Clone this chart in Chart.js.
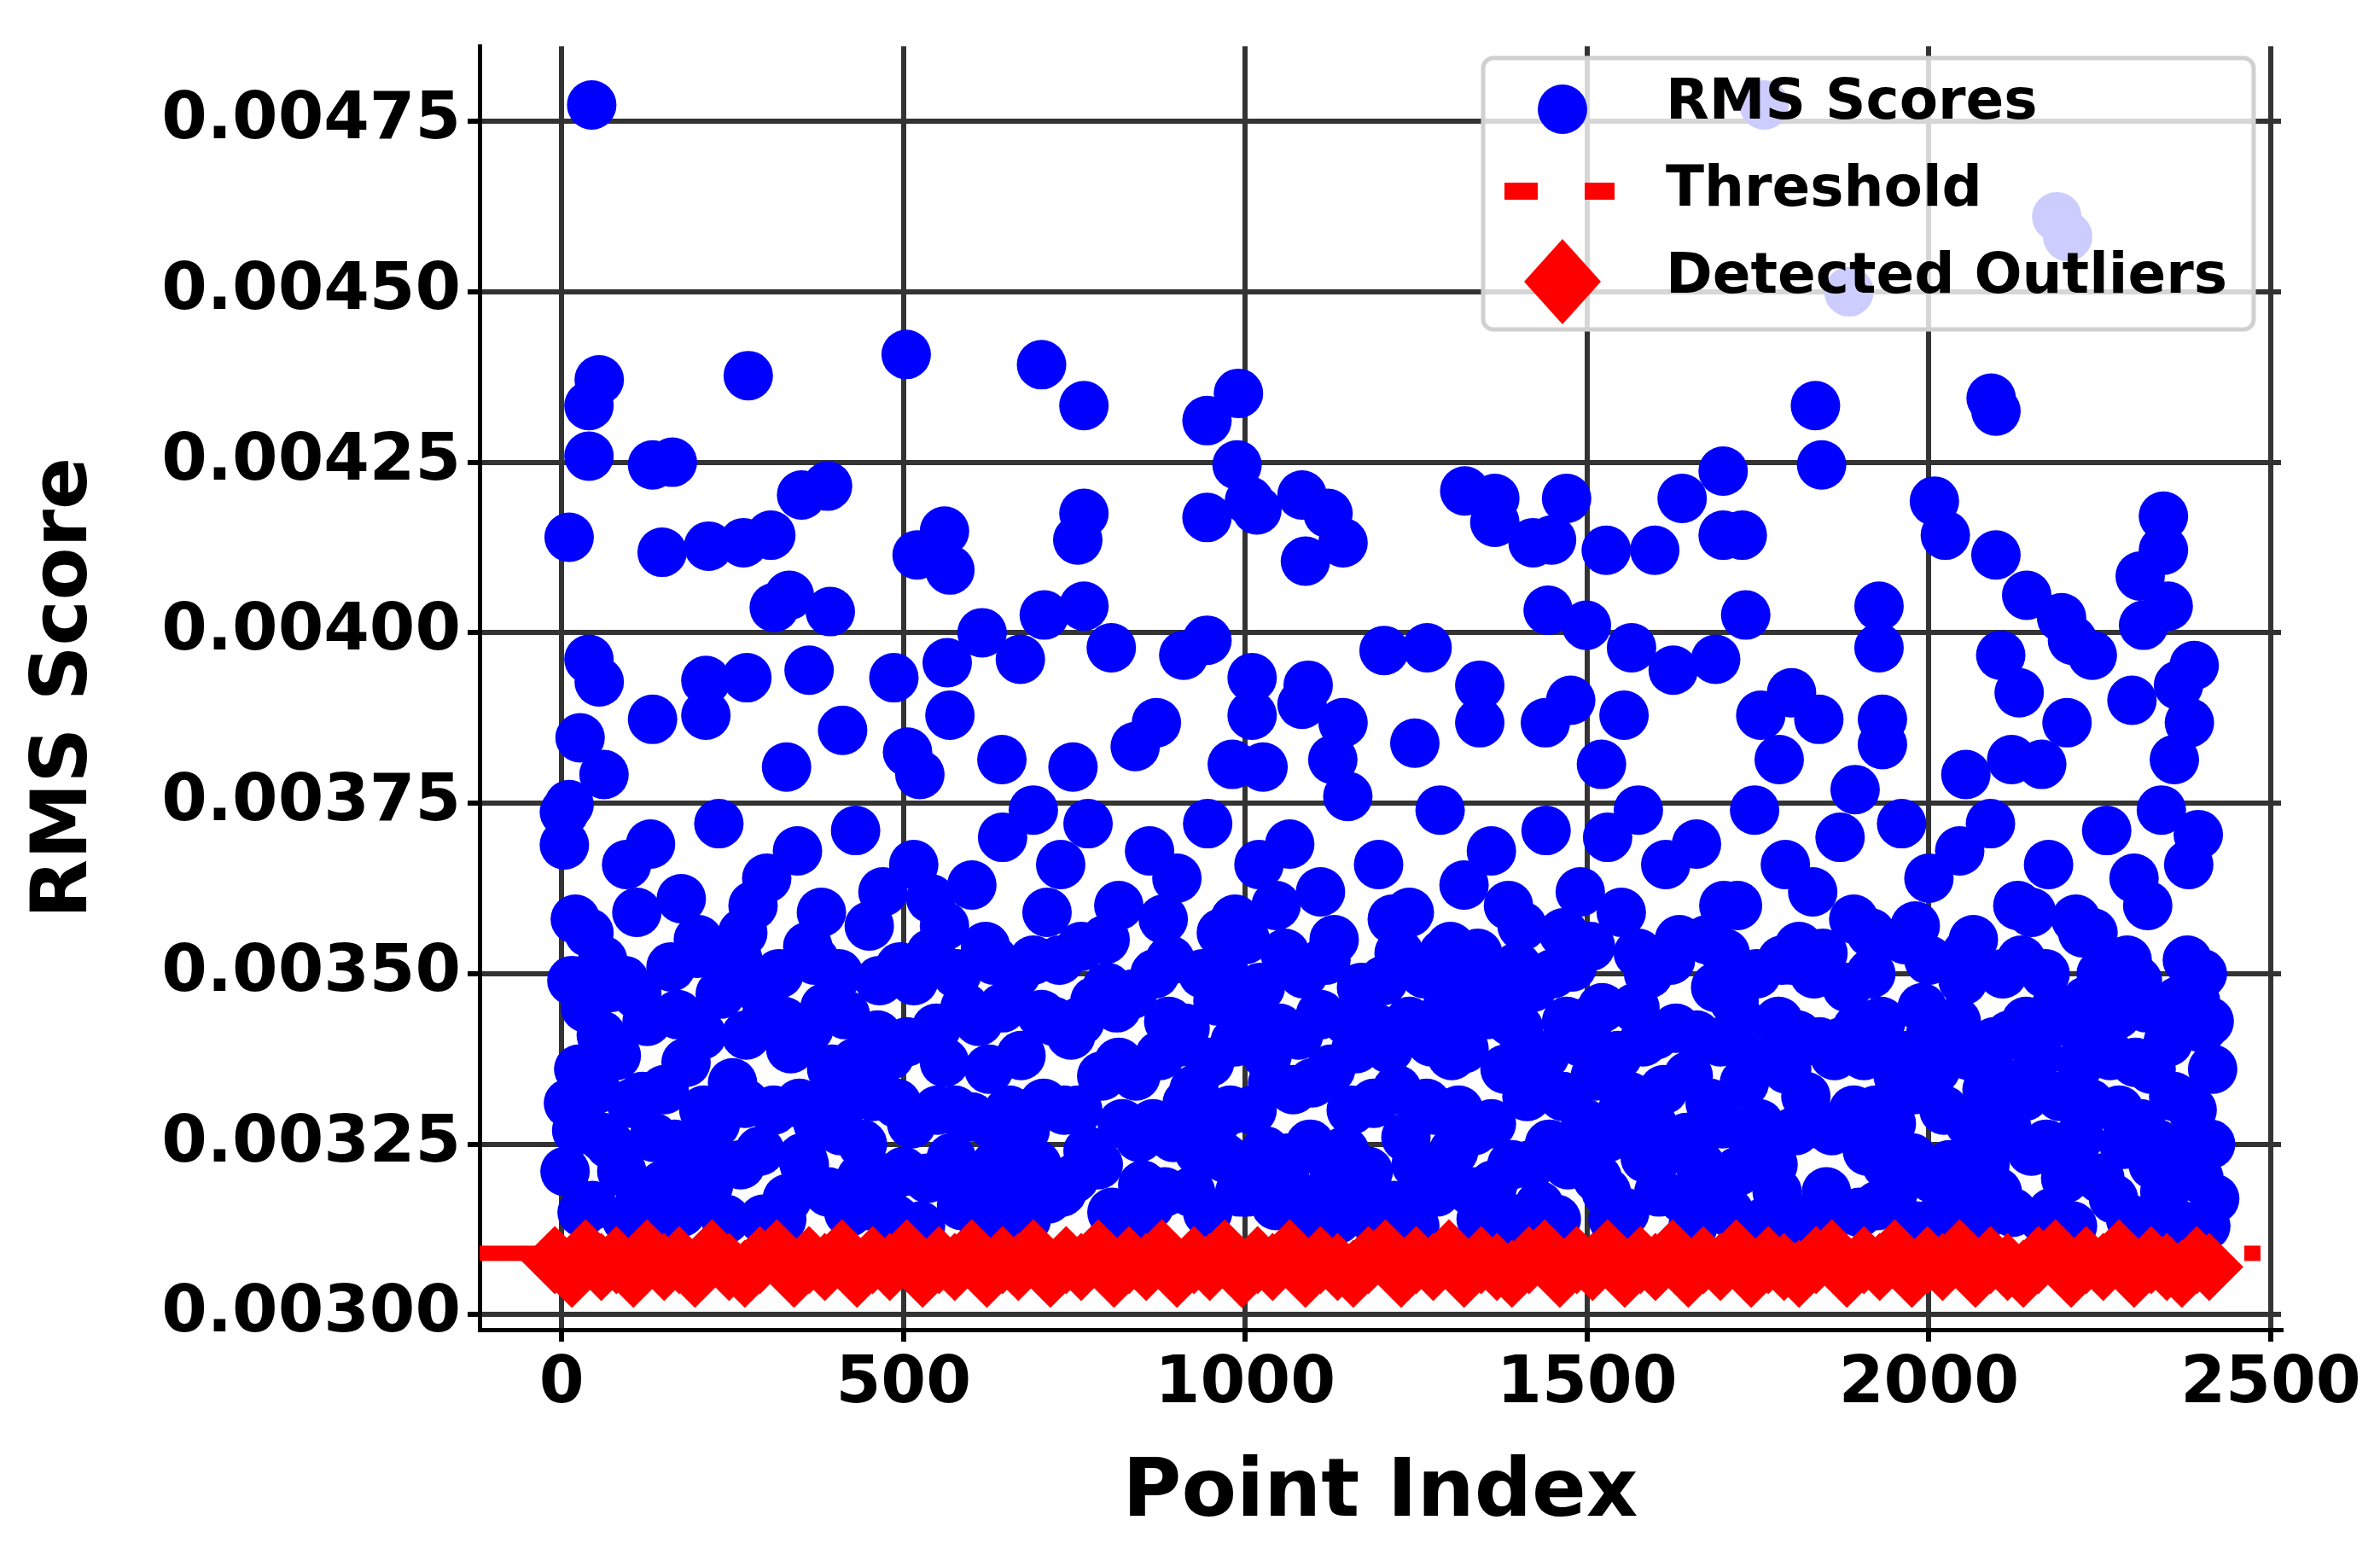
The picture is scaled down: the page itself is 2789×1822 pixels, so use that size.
<!DOCTYPE html>
<html>
<head>
<meta charset="utf-8">
<script src="https://cdn.jsdelivr.net/npm/chart.js@4/dist/chart.umd.min.js"></script>
<style>
  html, body { margin: 0; padding: 0; background: #fff; }
  #wrap { width: 2789px; height: 1822px; }
</style>
</head>
<body>
<div id="wrap"><canvas id="c" width="2789" height="1822"></canvas></div>
<script>
// tick labels
const xTicks = [0, 500, 1000, 1500, 2000, 2500];
const yTicks = [0.003, 0.00325, 0.0035, 0.00375, 0.004, 0.00425, 0.0045, 0.00475];

// RMS scores that stand out above the dense band: [index, score]
const highScores = [
  [44,0.004774],[11,0.00414],[40,0.004259],[40,0.004333],[55,0.004371],[4,0.003737],[11,0.003748],
  [4,0.003689],[40,0.003961],[55,0.003928],[27,0.003846],[62,0.003792],[133,0.004246],[162,0.00425],
  [147,0.004118],[133,0.003873],[215,0.004127],[266,0.004132],[273,0.004377],[306,0.004143],
  [333,0.004055],[311,0.004037],[351,0.004202],[389,0.004215],[393,0.004031],[362,0.003945],
  [271,0.003934],[211,0.00393],[211,0.003879],[329,0.003803],[411,0.003857],[486,0.003934],
  [504,0.004408],[520,0.004114],[560,0.004149],[568,0.004092],[564,0.003956],[568,0.003879],
  [506,0.003825],[524,0.003792],[615,0.004],[644,0.003814],[671,0.003961],[706,0.004026],
  [702,0.004393],[764,0.004333],[764,0.004175],[755,0.004136],[764,0.004039],[804,0.003978],
  [748,0.003803],[839,0.003833],[870,0.003868],[910,0.003967],[944,0.003989],[944,0.004311],
  [990,0.004351],[944,0.004169],[988,0.004246],[1006,0.004193],[1017,0.00418],[1010,0.003934],
  [1010,0.003879],[981,0.003807],[1026,0.003803],[1083,0.004202],[1088,0.004105],[1121,0.004175],
  [1143,0.004132],[1092,0.003923],[1083,0.003895],[1143,0.003868],[1128,0.003814],[1203,0.003974],
  [1266,0.003978],[1248,0.003838],[1321,0.004208],[1365,0.004197],[1365,0.004162],[1343,0.003923],
  [1343,0.003868],[1421,0.004132],[1448,0.004136],[1443,0.004033],[1470,0.004197],[1499,0.004011],
  [1528,0.004121],[1476,0.003901],[1439,0.003868],[1521,0.003807],[1565,0.003978],[1554,0.003879],
  [1599,0.004121],[1639,0.004197],[1626,0.003945],[1699,0.004237],[1699,0.004143],[1727,0.004143],
  [1732,0.004026],[1688,0.003961],[1754,0.003879],[1799,0.003912],[1839,0.003873],[1781,0.003814],
  [1834,0.004333],[1843,0.004246],[1883,0.0045],[1759,0.004774],[2008,0.004193],[2024,0.004143],
  [1927,0.004039],[1927,0.003978],[1932,0.003873],[1932,0.003836],[1892,0.00377],[2091,0.004344],
  [2098,0.004325],[2098,0.004114],[2105,0.003967],[2143,0.004055],[2132,0.003912],[2121,0.003814],
  [2165,0.003807],[2194,0.004022],[2210,0.003989],[2239,0.003967],[2187,0.00461],[2203,0.004581],
  [2309,0.004083],[2343,0.004171],[2343,0.004121],[2350,0.004039],[2314,0.004011],[2365,0.003923],
  [2381,0.003868],[2388,0.003952],[2394,0.003704],[2359,0.003814],[2297,0.003901],[2202,0.003868],
  [2054,0.003792]
];

// RMS scores in the upper edge of the dense band: [index, score]
const midScores = [
  [20,0.00358],[60,0.00352],[95,0.00366],[130,0.00369],[175,0.00361],[230,0.00372],[265,0.00356],
  [300,0.00364],[345,0.00368],[380,0.00359],[430,0.00371],[470,0.00362],[515,0.00366],[560,0.00357],
  [600,0.00363],[645,0.00370],[690,0.00374],[730,0.00366],[770,0.00372],[815,0.00360],[860,0.00368],
  [900,0.00364],[945,0.00372],[985,0.00358],[1020,0.00366],[1065,0.00369],[1110,0.00362],[1150,0.00376],
  [1195,0.00366],[1240,0.00359],[1285,0.00374],[1320,0.00363],[1360,0.00368],[1405,0.00357],[1440,0.00371],
  [1490,0.00362],[1530,0.00370],[1575,0.00374],[1615,0.00366],[1660,0.00369],[1700,0.00360],[1745,0.00374],
  [1790,0.00366],[1830,0.00362],[1870,0.00370],[1915,0.00356],[1960,0.00372],[2000,0.00364],[2045,0.00368],
  [2090,0.00372],[2130,0.00360],[2175,0.00366],[2215,0.00358],[2260,0.00371],[2300,0.00364],[2340,0.00374],
  [2380,0.00366],[2400,0.00350],[2410,0.00343],
  [40,0.00356],[110,0.00359],[200,0.00355],[280,0.00360],[360,0.00354],[450,0.00357],[540,0.00361],
  [620,0.00354],[710,0.00359],[795,0.00355],[880,0.00358],[965,0.00356],[1045,0.00360],[1130,0.00355],
  [1215,0.00358],[1300,0.00354],[1385,0.00360],[1465,0.00356],[1550,0.00359],[1635,0.00355],[1720,0.00360],
  [1810,0.00354],[1890,0.00358],[1980,0.00357],[2065,0.00355],[2150,0.00359],[2240,0.00356],[2320,0.00360]
];

// RMS scores filling the dense band: [index, score]
const bandScores = [
  [5,0.00321],[35,0.00345],[10,0.00331],[45,0.00316],[80,0.00338],[70,0.00325],[110,0.00347],[115,0.00318],
  [150,0.00333],[160,0.00351],[190,0.00322],[205,0.00341],[240,0.00314],[250,0.00334],[285,0.00348],[290,0.00324],
  [330,0.00317],[335,0.00339],[370,0.00352],[375,0.00328],[415,0.00344],[420,0.00315],[455,0.00332],[465,0.00349],
  [500,0.00321],[505,0.00340],[540,0.00353],[550,0.00330],[585,0.00316],[590,0.00345],[625,0.00336],[635,0.00322],
  [665,0.00350],[680,0.00314],[705,0.00331],[720,0.00343],[750,0.00320],[760,0.00354],[790,0.00335],[805,0.00315],
  [835,0.00347],[845,0.00326],[875,0.00338],[890,0.00352],[920,0.00318],[925,0.00333],[960,0.00346],[970,0.00323],
  [1000,0.00355],[1010,0.00330],[1045,0.00316],[1050,0.00342],[1085,0.00350],[1095,0.00325],[1125,0.00336],[1135,0.00314],
  [1170,0.00348],[1180,0.00321],[1210,0.00339],[1225,0.00353],[1255,0.00317],[1265,0.00331],[1295,0.00345],[1305,0.00324],
  [1340,0.00353],[1345,0.00314],[1380,0.00336],[1390,0.00322],[1420,0.00348],[1430,0.00316],[1465,0.00332],[1470,0.00343],
  [1505,0.00354],[1515,0.00320],[1545,0.00338],[1555,0.00315],[1590,0.00350],[1595,0.00328],[1630,0.00342],[1640,0.00317],
  [1675,0.00355],[1680,0.00331],[1715,0.00346],[1720,0.00321],[1755,0.00337],[1765,0.00314],[1800,0.00352],[1805,0.00327],
  [1840,0.00340],[1850,0.00318],[1880,0.00348],[1890,0.00330],[1925,0.00316],[1930,0.00343],[1965,0.00355],[1975,0.00323],
  [2010,0.00336],[2015,0.00314],[2050,0.00349],[2060,0.00328],[2095,0.00340],[2100,0.00318],[2135,0.00352],[2140,0.00332],
  [2180,0.00315],[2185,0.00345],[2220,0.00326],[2225,0.00356],[2265,0.00338],[2270,0.00317],[2305,0.00349],[2310,0.00328],
  [2345,0.00318],[2350,0.00340],[2385,0.00330],[2395,0.00320],[2405,0.00313],[2415,0.00336],
  [25,0.00336],[60,0.00326],[95,0.00314],[135,0.00326],[175,0.00315],[225,0.00328],[270,0.00341],[310,0.00330],
  [355,0.00322],[395,0.00336],[440,0.00325],[480,0.00338],[525,0.00313],[570,0.00323],[610,0.00343],[655,0.00330],
  [695,0.00322],[735,0.00330],[780,0.00346],[820,0.00328],[860,0.00316],[905,0.00340],[945,0.00315],[985,0.00340],
  [1030,0.00324],[1070,0.00333],[1110,0.00344],[1155,0.00330],[1195,0.00313],[1240,0.00343],[1280,0.00318],[1320,0.00339],
  [1360,0.00328],[1400,0.00342],[1445,0.00325],[1490,0.00340],[1530,0.00326],[1570,0.00345],[1615,0.00324],[1655,0.00313],
  [1695,0.00340],[1740,0.00326],[1780,0.00343],[1820,0.00332],[1865,0.00315],[1905,0.00338],[1945,0.00328],[1990,0.00345],
  [2030,0.00322],[2075,0.00314],[2115,0.00327],[2160,0.00338],[2200,0.00320],[2245,0.00341],[2285,0.00325],[2325,0.00336],
  [2365,0.00346],[2372,0.00313],
  [15,0.00349],[50,0.00333],[88,0.00321],[125,0.00343],[140,0.00312],[182,0.00337],[215,0.00319],[232,0.00347],
  [262,0.00322],[300,0.00344],[322,0.00314],[348,0.00331],[390,0.00318],[405,0.00350],[430,0.00337],[448,0.00316],
  [490,0.00331],[515,0.00349],[535,0.00320],[560,0.00337],[600,0.00329],[618,0.00313],[645,0.00345],[672,0.00338],
  [690,0.00352],[712,0.00317],[745,0.00341],[770,0.00324],[798,0.00348],[815,0.00337],[850,0.00319],[868,0.00350],
  [895,0.00326],[912,0.00342],[938,0.00350],[955,0.00328],[992,0.00318],[1022,0.00348],[1040,0.00334],[1060,0.00322],
  [1078,0.00341],[1102,0.00317],[1118,0.00352],[1145,0.00324],[1162,0.00339],[1188,0.00331],[1202,0.00349],[1235,0.00326],
  [1248,0.00313],[1272,0.00340],[1290,0.00353],[1312,0.00330],[1332,0.00318],[1352,0.00344],[1372,0.00315],[1398,0.00351],
  [1412,0.00332],[1438,0.00338],[1455,0.00314],[1478,0.00351],[1498,0.00328],[1522,0.00345],[1538,0.00314],[1562,0.00332],
  [1582,0.00340],[1605,0.00318],[1622,0.00352],[1648,0.00335],[1665,0.00322],[1688,0.00348],[1708,0.00315],[1730,0.00334],
  [1748,0.00350],[1772,0.00322],[1792,0.00336],[1812,0.00314],[1832,0.00350],[1858,0.00327],[1872,0.00340],[1898,0.00315],
  [1915,0.00350],[1938,0.00322],[1955,0.00335],[1982,0.00313],[2000,0.00352],[2022,0.00330],[2040,0.00343],[2062,0.00316],
  [2085,0.00333],[2108,0.00350],[2122,0.00315],[2150,0.00324],[2170,0.00350],[2192,0.00332],[2210,0.00313],[2235,0.00331],
  [2252,0.00350],[2278,0.00330],[2295,0.00314],[2318,0.00345],[2335,0.00325],[2358,0.00332],[2378,0.00352],[2412,0.00325],
  [30,0.00315],[72,0.00348],[102,0.00331],[165,0.00325],[198,0.00353],[258,0.00352],[318,0.00350],[362,0.00342],
  [408,0.00327],[472,0.00320],[495,0.00351],[578,0.00350],[632,0.00352],[662,0.00318],[728,0.00352],[755,0.00330],
  [828,0.00313],[882,0.00318],[932,0.00324],[975,0.00349],[1005,0.00342],[1058,0.00353],[1092,0.00313],[1150,0.00343],
  [1218,0.00316],[1262,0.00350],[1325,0.00349],[1368,0.00347],[1405,0.00313],[1450,0.00350],[1512,0.00335],[1575,0.00353],
  [1600,0.00341],[1660,0.00341],[1702,0.00353],[1735,0.00312],[1785,0.00352],[1845,0.00353],[1910,0.00324],[1960,0.00338],
  [2005,0.00320],[2055,0.00353],[2118,0.00341],[2172,0.00325],[2230,0.00346],[2290,0.00352],[2330,0.00312],[2400,0.00342],
  [22,0.00327],[58,0.00341],[92,0.00349],[118,0.00332],[148,0.00319],[170,0.00344],[208,0.00330],[238,0.00322],
  [268,0.00331],[295,0.00314],[325,0.00343],[352,0.00323],[385,0.00345],[412,0.00333],[438,0.00320],[462,0.00341],
  [488,0.00314],[512,0.00328],[548,0.00342],[575,0.00330],[598,0.00318],[628,0.00328],[652,0.00320],[678,0.00327],
  [702,0.00344],[732,0.00318],[758,0.00343],[785,0.00322],[812,0.00345],[840,0.00335],[865,0.00328],[888,0.00343],
  [915,0.00331],[948,0.00337],[978,0.00330],[1002,0.00318],[1032,0.00338],[1065,0.00323],[1098,0.00334],[1128,0.00322],
  [1158,0.00317],[1192,0.00342],[1222,0.00333],[1250,0.00322],[1278,0.00330],[1302,0.00338],[1335,0.00327],[1362,0.00319],
  [1388,0.00343],[1418,0.00322],[1442,0.00314],[1472,0.00322],[1502,0.00343],[1528,0.00318],[1552,0.00330],[1585,0.00323],
  [1612,0.00333],[1645,0.00326],[1672,0.00318],[1698,0.00328],[1725,0.00343],[1752,0.00328],[1778,0.00318],[1808,0.00341],
  [1838,0.00328],[1862,0.00338],[1895,0.00342],[1922,0.00330],[1948,0.00318],[1978,0.00333],[2002,0.00341],[2035,0.00313],
  [2058,0.00338],[2082,0.00322],[2112,0.00334],[2142,0.00343],[2168,0.00314],[2198,0.00343],[2222,0.00337],[2250,0.00320],
  [2275,0.00344],[2302,0.00337],[2328,0.00322],[2355,0.00324],[2390,0.00346],[2418,0.00317]
];

// detected outliers: [index, score]
const outliers = [
  [-10,0.00308],[15,0.00306],[35,0.00309],[58,0.00307],[80,0.00308],[105,0.00306],[125,0.00309],[150,0.00307],
  [172,0.00308],[195,0.00306],[220,0.00309],[245,0.00307],[268,0.00306],[290,0.00308],[315,0.00309],[340,0.00306],
  [362,0.00308],[385,0.00307],[410,0.00309],[432,0.00306],[455,0.00308],[480,0.00307],[505,0.00309],[528,0.00306],
  [552,0.00308],[575,0.00307],[600,0.00309],[622,0.00306],[645,0.00308],[668,0.00307],[690,0.00309],[715,0.00306],
  [738,0.00308],[760,0.00307],[785,0.00309],[808,0.00306],[830,0.00308],[855,0.00307],[878,0.00309],[900,0.00306],
  [925,0.00308],[948,0.00307],[970,0.00309],[995,0.00306],[1018,0.00308],[1040,0.00307],[1065,0.00309],[1088,0.00306],
  [1110,0.00308],[1135,0.00307],[1158,0.00306],[1180,0.00308],[1205,0.00309],[1228,0.00306],[1250,0.00308],[1275,0.00307],
  [1298,0.00309],[1320,0.00306],[1345,0.00308],[1368,0.00307],[1390,0.00306],[1415,0.00308],[1438,0.00309],[1460,0.00306],
  [1485,0.00308],[1508,0.00307],[1530,0.00309],[1555,0.00306],[1578,0.00308],[1600,0.00307],[1625,0.00309],[1648,0.00306],
  [1670,0.00308],[1695,0.00307],[1718,0.00309],[1740,0.00306],[1765,0.00308],[1788,0.00307],[1810,0.00306],[1835,0.00308],
  [1858,0.00309],[1880,0.00306],[1905,0.00308],[1928,0.00307],[1950,0.00309],[1975,0.00306],[1998,0.00308],[2020,0.00307],
  [2045,0.00309],[2068,0.00306],[2090,0.00308],[2115,0.00307],[2138,0.00306],[2160,0.00308],[2185,0.00309],[2208,0.00306],
  [2230,0.00308],[2255,0.00307],[2278,0.00309],[2300,0.00306],[2325,0.00308],[2348,0.00307],[2370,0.00306],[2392,0.00308],
  [2410,0.00307]
];

// threshold line ends: [index, score]
const threshold = [[-120, 0.00309], [2485, 0.00309]];

const toPts = arr => arr.map(([x, y]) => ({ x, y }));
const rmsPoints = toPts(bandScores).concat(toPts(midScores), toPts(highScores));

const font = 'DejaVu Sans';

const legendBox = {
  id: 'legendBox',
  afterDraw(chart) {
    const ctx = chart.ctx;
    const x = 1738, y = 68, w = 903, h = 318;
    ctx.save();
    ctx.fillStyle = 'rgba(255,255,255,0.8)';
    ctx.strokeStyle = '#d0d0d0';
    ctx.lineWidth = 5;
    ctx.beginPath();
    ctx.roundRect(x, y, w, h, 12);
    ctx.fill();
    ctx.stroke();
    ctx.fillStyle = '#0000ff';
    ctx.beginPath();
    ctx.arc(1831, 128, 29, 0, Math.PI * 2);
    ctx.fill();
    ctx.fillStyle = '#ff0000';
    ctx.fillRect(1763, 214, 39, 20);
    ctx.fillRect(1857, 214, 35, 20);
    ctx.beginPath();
    ctx.moveTo(1831, 280); ctx.lineTo(1876, 330); ctx.lineTo(1831, 380); ctx.lineTo(1786, 330);
    ctx.closePath(); ctx.fill();
    ctx.fillStyle = '#000';
    ctx.font = `bold 66px "${font}"`;
    ctx.textBaseline = 'middle';
    ctx.fillText('RMS Scores', 1952, 122);
    ctx.fillText('Threshold', 1952, 224);
    ctx.fillText('Detected Outliers', 1952, 326);
    ctx.restore();
  }
};

new Chart(document.getElementById('c'), {
  type: 'scatter',
  data: {
    datasets: [
      { label: 'RMS Scores', data: rmsPoints, backgroundColor: '#0000ff', borderWidth: 0,
        pointRadius: 29, order: 3 },
      { type: 'line', label: 'Threshold', data: toPts(threshold), borderColor: '#ff0000', borderWidth: 18,
        borderDash: [66, 28], pointRadius: 0, order: 2 },
      { label: 'Detected Outliers', data: toPts(outliers), backgroundColor: '#ff0000', borderWidth: 0,
        pointStyle: 'rectRot', pointRadius: 40, order: 1 }
    ]
  },
  options: {
    responsive: false,
    animation: false,
    events: [],
    layout: { padding: { top: 14, right: 116, left: 20, bottom: 10 } },
    plugins: { legend: { display: false }, tooltip: { enabled: false } },
    scales: {
      x: {
        type: 'linear', min: -120, max: 2515,
        afterBuildTicks: s => { s.ticks = xTicks.map(v => ({ value: v })); },
        afterFit: s => { s.height = 254; },
        grid: { color: '#333', lineWidth: 6, tickLength: 14, tickColor: '#000' },
        border: { color: '#000', width: 5 },
        ticks: { color: '#000', font: { family: font, weight: 'bold', size: 76 }, padding: 6, maxRotation: 0,
          callback: v => String(v) },
        title: { display: true, text: 'Point Index', color: '#000',
          font: { family: font, weight: 'bold', size: 94 }, padding: { top: 0 } }
      },
      y: {
        type: 'linear', min: 0.002978, max: 0.00486,
        afterBuildTicks: s => { s.ticks = yTicks.map(v => ({ value: v })); },
        afterFit: s => { s.width = 542; },
        grid: { color: '#333', lineWidth: 6, tickLength: 14, tickColor: '#000' },
        border: { color: '#000', width: 5 },
        ticks: { color: '#000', font: { family: font, weight: 'bold', size: 77 }, padding: 8,
          callback: v => v.toFixed(5) },
        title: { display: true, text: 'RMS Score', color: '#000',
          font: { family: font, weight: 'bold', size: 90 }, padding: { bottom: 0 } }
      }
    }
  },
  plugins: [legendBox]
});
</script>
</body>
</html>
